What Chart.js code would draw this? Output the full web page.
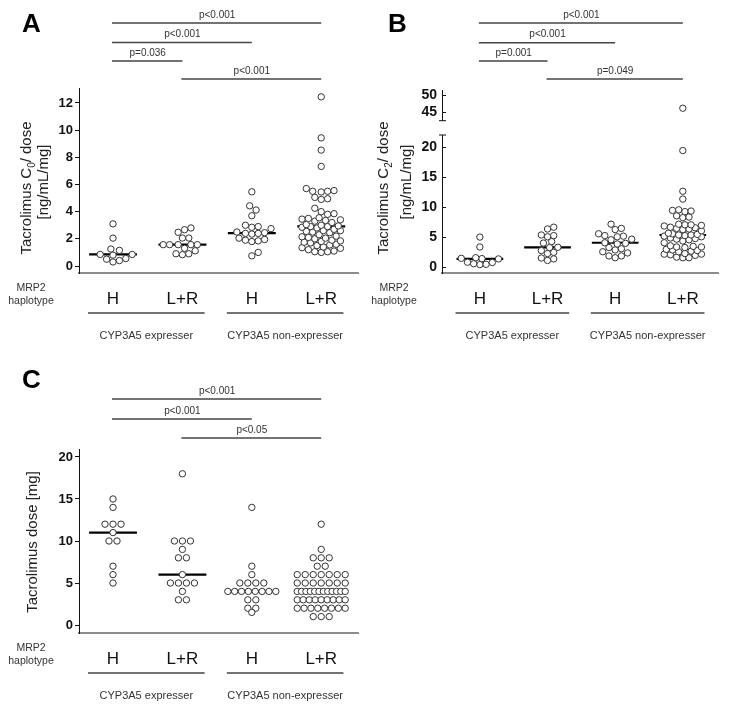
<!DOCTYPE html>
<html>
<head>
<meta charset="utf-8">
<title>Tacrolimus by MRP2 haplotype</title>
<script src="https://cdn.jsdelivr.net/npm/chart.js@4.4.1/dist/chart.umd.min.js"></script>
<style>
  body { margin: 0; background: #fff; width: 729px; height: 710px; position: relative; overflow: hidden; }
  canvas { position: absolute; }
</style>
</head>
<body>
<canvas id="chartA" width="365" height="350" style="left:0;top:0"></canvas>
<canvas id="chartB" width="364" height="350" style="left:365px;top:0"></canvas>
<canvas id="chartC" width="365" height="355" style="left:0;top:355px"></canvas>
<script>
/* categories */
const haplotypes = ['H', 'L+R', 'H', 'L+R'];
const cypGroups = ['CYP3A5 expresser', 'CYP3A5 non-expresser'];
const groupMembers = [[1, 2], [3, 4]];

/* A : C0 / dose [ng/mL/mg] */
const c0H_exp = [3.1, 2.05, 1.25, 1.15, 0.85, 0.85, 0.8, 0.55, 0.5, 0.4, 0.3];
const c0LR_exp = [2.8, 2.67, 2.48, 2.06, 2.06, 1.57, 1.57, 1.57, 1.57, 1.57, 1.3, 1.12, 0.9, 0.9, 0.83];
const c0H_non = [5.46, 4.43, 4.12, 3.7, 3.0, 2.9, 2.85, 2.75, 2.5, 2.45, 2.4, 2.4, 2.35, 2.05, 1.95, 1.9, 1.85, 1.8, 1.0, 0.75];
const c0LR_non = [12.45, 9.43, 8.53, 7.33, 5.7, 5.55, 5.5, 5.45, 5.5, 5.05, 4.95, 4.9, 4.25, 4.0, 3.85, 3.8,
  3.55, 3.5, 3.45, 3.4, 3.3, 3.35, 3.2, 3.05, 3.0, 2.95, 2.9, 2.9, 2.85, 2.8, 2.7, 2.6, 2.6, 2.55, 2.5, 2.45,
  2.3, 2.2, 2.15, 2.1, 2.05, 2.0, 1.9, 1.85, 1.8, 1.75, 1.7, 1.6, 1.55, 1.5, 1.4, 1.35, 1.3, 1.2, 1.1, 1.05, 1.05, 1.0];
const c0Medians = [0.85, 1.57, 2.42, 2.92];
const c0Ticks = [0, 2, 4, 6, 8, 10, 12];
const c0Pairs = [[1, 4], [1, 3], [1, 2], [2, 4]];
const c0Pvalues = ['p<0.001', 'p<0.001', 'p=0.036', 'p<0.001'];

/* B : C2 / dose [ng/mL/mg] */
const c2H_exp = [4.95, 3.3, 1.5, 1.4, 1.35, 1.3, 0.75, 0.7, 0.5, 0.4, 0.35];
const c2LR_exp = [6.6, 6.3, 5.3, 5.2, 5.0, 4.2, 3.95, 3.25, 3.2, 2.7, 2.4, 2.2, 1.45, 1.3, 1.05];
const c2H_non = [7.1, 6.4, 6.2, 5.5, 5.2, 5.1, 5.0, 4.6, 4.5, 4.0, 3.9, 3.8, 3.2, 3.0, 2.8, 2.5, 2.3, 1.8, 1.8, 1.5];
const c2LR_non = [46.1, 19.4, 12.6, 11.3, 9.5, 9.4, 9.3, 9.2, 8.5, 8.3, 8.2, 7.1, 7.0, 7.0, 6.9, 6.8,
  6.6, 6.5, 6.4, 6.3, 6.2, 6.0, 5.6, 5.5, 5.4, 5.3, 5.3, 5.2, 5.1, 5.0, 4.8, 4.7, 4.6, 4.5, 4.3, 4.0,
  3.5, 3.4, 3.3, 3.3, 3.2, 2.9, 2.8, 2.7, 2.6, 2.5, 2.2, 2.1, 2.1, 2.0, 1.9, 1.6, 1.5, 1.5];
const c2Medians = [1.3, 3.22, 4.0, 5.3];
const c2TicksLow = [0, 5, 10, 15, 20];
const c2TicksHigh = [45, 50];
const c2Break = 30;
const c2Pairs = [[1, 4], [1, 3], [1, 2], [2, 4]];
const c2Pvalues = ['p<0.001', 'p<0.001', 'p=0.001', 'p=0.049'];

/* C : dose [mg] */
const doseH_exp = [15, 14, 12, 12, 12, 11, 10, 10, 7, 6, 5];
const doseLR_exp = [18, 10, 10, 10, 9, 8, 8, 6, 5, 5, 5, 5, 4, 3, 3];
const doseH_non = [14, 7, 6, 5, 5, 5, 5, 4, 4, 4, 4, 4, 4, 4, 4, 3, 3, 2, 2, 1.5];
const doseLR_non = [12, 9, 8, 8, 8, 7, 7, 6, 6, 6, 6, 6, 6, 6, 5, 5, 5, 5, 5, 5, 5,
  4, 4, 4, 4, 4, 4, 4, 4, 4, 4, 4, 4, 3, 3, 3, 3, 3, 3, 3, 3, 3, 2, 2, 2, 2, 2, 2, 2, 2, 1, 1, 1];
const doseMedians = [11, 6, 4, 4];
const doseTicks = [0, 5, 10, 15, 20];
const dosePairs = [[1, 4], [1, 3], [2, 4]];
const dosePvalues = ['p<0.001', 'p<0.001', 'p<0.05'];

const FONT = "'Liberation Sans', Arial, sans-serif";
Chart.defaults.font.family = FONT;
Chart.defaults.color = '#222';

// panel geometry (canvas pixels)
const geomA = { w: 365, h: 350, left: 79, right: 358, top: 88, bottom: 273, xMin: 0.51, xMax: 4.53, yMin: -0.515, yMax: 13.1 };
const geomB = { w: 364, h: 350, left: 77, right: 353, top: 90, bottom: 273, xMin: 0.44, xMax: 4.52, yMin: -1.05, yMax: 22, lowTop: 135 };
const geomC = { w: 365, h: 355, left: 79, right: 358, top: 94, bottom: 278, xMin: 0.51, xMax: 4.53, yMin: -0.95, yMax: 20.95 };

function kx(g) { return (g.right - g.left) / (g.xMax - g.xMin); }

// beeswarm: spread points sideways, but stay within maxHalf px of the centre
// (circles overlap there, like in the original figure)
function swarm(values, center, pxX, pxY, gap, maxHalf) {
  const placed = [];
  const out = [];
  values.slice().sort((a, b) => a - b).forEach(v => {
    const py = v * pxY;
    let off = null, bestO = 0, bestD = -1;
    for (let k = 0; ; k++) {
      const o = (k % 2 ? 1 : -1) * Math.ceil(k / 2) * gap / 3;
      if (Math.abs(o) > maxHalf) break;
      const d = placed.reduce((m, p) => Math.min(m, Math.hypot(p.x - o, p.y - py)), Infinity);
      if (d >= gap) { off = o; break; }
      if (d > bestD) { bestD = d; bestO = o; }
    }
    if (off === null) off = bestO;
    placed.push({ x: off, y: py });
    out.push({ x: center + off / pxX, y: v });
  });
  return out;
}

// rows of equal values, squeezed when a row is long
function rows(values, center, pxX) {
  const out = [];
  const seen = {};
  values.forEach(v => { seen[v] = (seen[v] || 0) + 1; });
  Object.keys(seen).forEach(key => {
    const n = seen[key];
    const step = n > 1 ? Math.min(8, 48 / (n - 1)) : 0;
    for (let i = 0; i < n; i++) {
      out.push({ x: center + (i - (n - 1) / 2) * step / pxX, y: Number(key) });
    }
  });
  return out;
}

function dotSet(points, axis) {
  return {
    data: points, yAxisID: axis || 'y', order: 0,
    pointRadius: 3.2, pointBorderWidth: 1,
    pointBorderColor: '#333', pointBackgroundColor: '#fff',
    borderColor: '#333', backgroundColor: '#fff'
  };
}

function medianSets(medians) {
  return medians.map((m, g) => ({
    type: 'line', yAxisID: 'y', order: 1,
    data: [{ x: g + 1 - 0.345, y: m }, { x: g + 1 + 0.345, y: m }],
    borderColor: '#000', borderWidth: 2.2, pointRadius: 0, showLine: true
  }));
}

function xScale(g) {
  return {
    type: 'linear', min: g.xMin, max: g.xMax,
    afterBuildTicks: s => { s.ticks = haplotypes.map((h, i) => ({ value: i + 1 })); },
    afterFit: s => { s.height = g.h - g.bottom; },
    grid: { display: false },
    border: { color: '#8c8c8c', width: 2 },
    ticks: { callback: (v, i) => haplotypes[i], font: { size: 17 }, color: '#111', padding: 8, autoSkip: false, maxRotation: 0 }
  };
}

function yScale(g, tickList, extra) {
  return Object.assign({
    type: 'linear', min: g.yMin, max: g.yMax,
    afterBuildTicks: s => { s.ticks = tickList.map(v => ({ value: v })); },
    afterFit: s => { s.width = g.left; },
    grid: { drawOnChartArea: false, color: '#111', tickLength: 4, tickWidth: 1 },
    border: { color: '#111', width: 1 },
    ticks: { font: { size: 13, weight: 'bold' }, color: '#111', padding: 2 }
  }, extra || {});
}

function drawVertical(ctx, parts, x, y) {
  ctx.save();
  ctx.translate(x, y);
  ctx.rotate(-Math.PI / 2);
  ctx.fillStyle = '#222';
  ctx.textBaseline = 'middle';
  ctx.textAlign = 'left';
  const fontOf = p => (p.sub ? '10px ' : '15px ') + FONT;
  let w = 0;
  parts.forEach(p => { ctx.font = fontOf(p); w += ctx.measureText(p.t).width; });
  let cx = -w / 2;
  parts.forEach(p => {
    ctx.font = fontOf(p);
    ctx.fillText(p.t, cx, p.sub ? 5 : 0);
    cx += ctx.measureText(p.t).width;
  });
  ctx.restore();
}

function line(ctx, x1, y1, x2, y2) {
  ctx.beginPath(); ctx.moveTo(x1, y1); ctx.lineTo(x2, y2); ctx.stroke();
}

function decoPlugin(cfg) {
  return {
    id: 'deco' + cfg.letter,
    afterDraw(chart) {
      const ctx = chart.ctx;
      const xs = chart.scales.x;
      const area = chart.chartArea;
      ctx.save();

      ctx.fillStyle = '#000';
      ctx.font = 'bold 26px ' + FONT;
      ctx.textAlign = 'left';
      ctx.textBaseline = 'alphabetic';
      ctx.fillText(cfg.letter, cfg.letterX, cfg.letterY);

      // significance bars
      cfg.pairs.forEach((pr, i) => {
        const x1 = xs.getPixelForValue(pr[0]);
        const x2 = xs.getPixelForValue(pr[1]);
        const y = cfg.bracketY[i];
        ctx.strokeStyle = '#444';
        ctx.lineWidth = 1.5;
        line(ctx, x1 - 1, y, x2, y);
        ctx.fillStyle = '#333';
        ctx.font = '10px ' + FONT;
        ctx.textAlign = 'center';
        ctx.textBaseline = 'bottom';
        ctx.fillText(cfg.pLabels[i], (x1 + x2) / 2, y - 3);
      });

      cfg.title.forEach((parts, i) => drawVertical(ctx, parts, cfg.titleX[i], cfg.titleY[i]));

      ctx.fillStyle = '#333';
      ctx.font = '10.5px ' + FONT;
      ctx.textAlign = 'center';
      ctx.textBaseline = 'middle';
      ctx.fillText('MRP2', area.left - 48, area.bottom + 15);
      ctx.fillText('haplotype', area.left - 48, area.bottom + 28);

      cypGroups.forEach((name, i) => {
        const m = groupMembers[i];
        const x1 = xs.getPixelForValue(m[0] - 0.36);
        const x2 = xs.getPixelForValue(m[m.length - 1] + 0.32);
        ctx.strokeStyle = '#444';
        ctx.lineWidth = 1.6;
        line(ctx, x1, area.bottom + 40, x2, area.bottom + 40);
        ctx.fillStyle = '#333';
        ctx.font = '11px ' + FONT;
        ctx.fillText(name, (x1 + x2) / 2, area.bottom + 63);
      });

      if (cfg.inward) {
        ctx.strokeStyle = '#111';
        ctx.lineWidth = 1;
        ['yTop', 'y'].forEach(id => {
          const s = chart.scales[id];
          s.ticks.forEach(t => {
            const py = Math.round(s.getPixelForValue(t.value)) + 0.5;
            line(ctx, s.right, py, s.right + 4, py);
          });
        });
        const r = chart.scales.y.right;
        [chart.scales.yTop.bottom, chart.scales.y.top].forEach(py => line(ctx, r - 3, py, r + 4, py));
      }
      ctx.restore();
    }
  };
}

function baseOptions(scales) {
  return {
    responsive: false, animation: false, events: [],
    plugins: { legend: { display: false }, tooltip: { enabled: false } },
    scales: scales
  };
}

/* ---- panel A ---- */
const ptsA = [];
[c0H_exp, c0LR_exp, c0H_non, c0LR_non].forEach((vals, g) => {
  swarm(vals, g + 1, kx(geomA), (geomA.bottom - geomA.top) / (geomA.yMax - geomA.yMin), 6.4, 20).forEach(p => ptsA.push(p));
});
const optA = baseOptions({ x: xScale(geomA), y: yScale(geomA, c0Ticks) });
optA.layout = { padding: { top: geomA.top, right: geomA.w - geomA.right, left: 0, bottom: 0 } };
new Chart(document.getElementById('chartA'), {
  type: 'scatter',
  data: { datasets: [dotSet(ptsA)].concat(medianSets(c0Medians)) },
  options: optA,
  plugins: [decoPlugin({
    letter: 'A', letterX: 22, letterY: 32,
    pairs: c0Pairs, pLabels: c0Pvalues, bracketY: [23, 42.5, 61, 79],
    title: [[{ t: 'Tacrolimus C' }, { t: '0', sub: true }, { t: '/ dose' }], [{ t: '[ng/mL/mg]' }]],
    titleX: [27, 44], titleY: [188, 182]
  })]
});

/* ---- panel B (broken axis) ---- */
const kyB = (geomB.bottom - geomB.lowTop) / (geomB.yMax - geomB.yMin);
const ptsB = [];
const ptsBTop = [];
[c2H_exp, c2LR_exp, c2H_non, c2LR_non].forEach((vals, g) => {
  swarm(vals.filter(v => v < c2Break), g + 1, kx(geomB), kyB, 6.2, 20).forEach(p => ptsB.push(p));
  vals.filter(v => v >= c2Break).forEach(v => ptsBTop.push({ x: g + 1, y: v }));
});
const bTickFont = { font: { size: 14, weight: 'bold' }, color: '#111', padding: 5 };
const bGrid = { drawOnChartArea: false, drawTicks: false };
const optB = baseOptions({
  x: xScale(geomB),
  yTop: yScale(geomB, c2TicksHigh, {
    min: 42.4, max: 51.5, stack: 'b', stackWeight: 30.7, weight: 3, grid: bGrid, ticks: bTickFont
  }),
  yGap: {
    type: 'linear', min: 0, max: 1, stack: 'b', stackWeight: 14.3, weight: 2,
    afterFit: s => { s.width = geomB.left; },
    grid: { display: false }, border: { display: false }, ticks: { display: false }
  },
  y: yScale(geomB, c2TicksLow, {
    stack: 'b', stackWeight: geomB.bottom - geomB.lowTop, weight: 1, grid: bGrid, ticks: bTickFont
  })
});
optB.layout = { padding: { top: geomB.top, right: geomB.w - geomB.right, left: 0, bottom: 0 } };
new Chart(document.getElementById('chartB'), {
  type: 'scatter',
  data: { datasets: [dotSet(ptsB), dotSet(ptsBTop, 'yTop')].concat(medianSets(c2Medians)) },
  options: optB,
  plugins: [decoPlugin({
    letter: 'B', letterX: 23, letterY: 32, inward: true,
    pairs: c2Pairs, pLabels: c2Pvalues, bracketY: [23, 42.7, 61, 79],
    title: [[{ t: 'Tacrolimus C' }, { t: '2', sub: true }, { t: '/ dose' }], [{ t: '[ng/mL/mg]' }]],
    titleX: [19, 42], titleY: [188, 182]
  })]
});

/* ---- panel C ---- */
const ptsC = [];
[doseH_exp, doseLR_exp, doseH_non, doseLR_non].forEach((vals, g) => {
  rows(vals, g + 1, kx(geomC)).forEach(p => ptsC.push(p));
});
const optC = baseOptions({ x: xScale(geomC), y: yScale(geomC, doseTicks) });
optC.layout = { padding: { top: geomC.top, right: geomC.w - geomC.right, left: 0, bottom: 0 } };
new Chart(document.getElementById('chartC'), {
  type: 'scatter',
  data: { datasets: [dotSet(ptsC)].concat(medianSets(doseMedians)) },
  options: optC,
  plugins: [decoPlugin({
    letter: 'C', letterX: 22, letterY: 33,
    pairs: dosePairs, pLabels: dosePvalues, bracketY: [44, 64, 83],
    title: [[{ t: 'Tacrolimus dose [mg]' }]],
    titleX: [33], titleY: [187]
  })]
});
</script>
</body>
</html>
